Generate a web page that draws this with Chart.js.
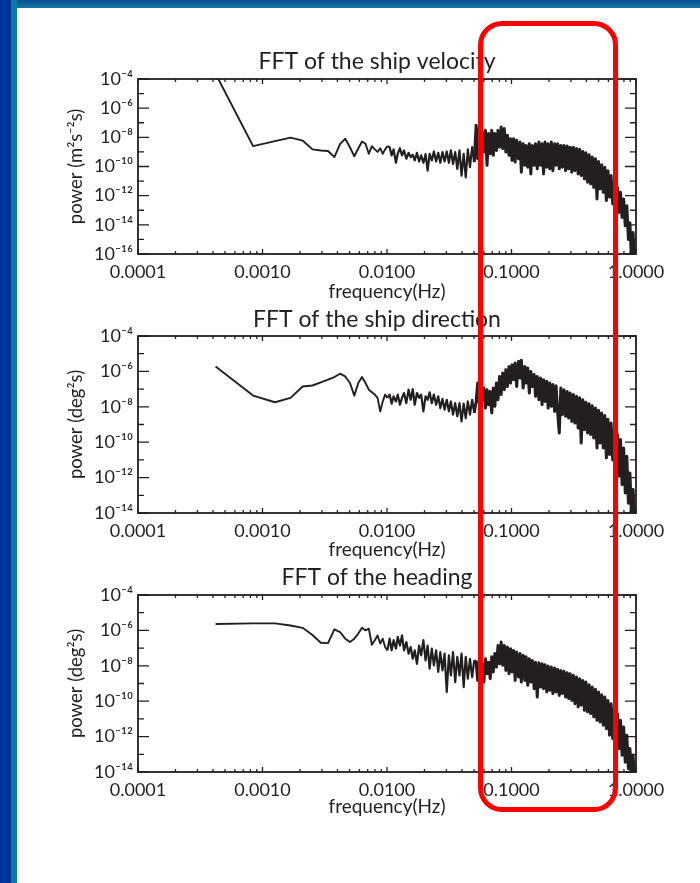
<!DOCTYPE html>
<html>
<head>
<meta charset="utf-8">
<title>FFT of the ship motion</title>
<script src="https://cdn.jsdelivr.net/npm/chart.js@4.4.1/dist/chart.umd.min.js"></script>
<style>
  html, body { margin: 0; padding: 0; width: 700px; height: 883px; overflow: hidden; background: #fff; }
  .edge-top { position: absolute; left: 11px; top: 0; width: 689px; height: 8px; background: linear-gradient(#0a4f98, #1379a0); }
  .edge-left { position: absolute; left: 0; top: 0; width: 11px; height: 883px; background: #00339a; }
  .edge-left-inner { position: absolute; left: 11px; top: 0; width: 6px; height: 883px; background: #0b7b9e; }
  canvas { position: absolute; left: 17px; }
  .highlight { position: absolute; left: 478px; top: 21px; width: 140px; height: 791px; box-sizing: border-box;
               border: 5px solid #ff0000; border-radius: 24px; }
</style>
</head>
<body>
<div class="edge-top"></div>
<div class="edge-left"></div>
<div class="edge-left-inner"></div>
<canvas id="velocity" width="683" height="267" style="top:36px"></canvas>
<canvas id="direction" width="683" height="258" style="top:303px"></canvas>
<canvas id="heading" width="683" height="257" style="top:561px"></canvas>
<div class="highlight"></div>
<script>
// frequency bins (Hz), shared by the three spectra
const freq = [
  0.00042, 0.00084, 0.00126, 0.00168, 0.0021, 0.00252, 0.00294, 0.00336, 0.00378, 0.0042,
  0.00462, 0.00504, 0.00546, 0.00588, 0.0063, 0.00672, 0.00714, 0.00756, 0.00798, 0.0084,
  0.00882, 0.00924, 0.00966, 0.01008,
  0.0105, 0.0109, 0.0113, 0.0118, 0.0122, 0.0127, 0.0132, 0.0137, 0.0143, 0.0149,
  0.0155, 0.0161, 0.0167, 0.0174, 0.0181, 0.0188, 0.0196, 0.0204, 0.0212, 0.0220,
  0.0229, 0.0238, 0.0248, 0.0258, 0.0268, 0.0279, 0.0290, 0.0302, 0.0314, 0.0326,
  0.0339, 0.0353, 0.0367, 0.0382, 0.0397, 0.0413, 0.0429, 0.0446, 0.0464, 0.0483,
  0.0502,
  0.052, 0.0535, 0.055, 0.0567, 0.0583, 0.06, 0.0618, 0.0636, 0.0655, 0.0674,
  0.0694, 0.0714, 0.0735, 0.0757, 0.0779, 0.0802, 0.0826, 0.085, 0.0875, 0.0901,
  0.0927, 0.0955, 0.0983, 0.101, 0.104, 0.107, 0.110, 0.114, 0.117, 0.120,
  0.124, 0.128, 0.131, 0.135, 0.139, 0.143, 0.147, 0.152, 0.156, 0.161,
  0.166, 0.171, 0.176, 0.181, 0.186, 0.192, 0.197, 0.203, 0.209, 0.215,
  0.222, 0.228, 0.235, 0.242, 0.249, 0.256, 0.264, 0.272, 0.280, 0.288,
  0.296, 0.305, 0.314, 0.323, 0.333, 0.343, 0.353, 0.363, 0.374, 0.385,
  0.396, 0.408, 0.420, 0.432, 0.445, 0.458, 0.472, 0.486, 0.500, 0.515,
  0.530, 0.546, 0.562, 0.578, 0.595, 0.613, 0.631, 0.650, 0.669, 0.689,
  0.709, 0.730, 0.751, 0.773, 0.796, 0.820, 0.844, 0.869, 0.894, 0.921,
  0.948, 0.976, 1.0
];

// power of the ship velocity (m^2 s^-2 s)
const velocityPower = [
  2.3e-4, 2.5e-9, 5.5e-9, 9.5e-9, 6e-9, 1.5e-9, 1.26e-9, 1.15e-9, 4.4e-10, 3.6e-9,
  8e-9, 2.1e-9, 5e-10, 1.7e-9, 5.2e-9, 3.6e-9, 7.4e-10, 2.5e-9, 1.5e-9, 1e-9,
  1.8e-9, 7.4e-10, 1.5e-9, 2.5e-9,
  2.1e-9, 5.8e-10, 1.5e-9, 1.8e-10, 7.4e-10, 1.8e-9, 5.8e-10, 1.26e-9, 3.4e-10, 8.7e-10,
  4.4e-10, 6.3e-10, 2.6e-10, 8.7e-10, 2.2e-10, 5.8e-10, 1.8e-10, 7e-10, 5.2e-11, 7.4e-10,
  2.6e-10, 1.07e-9, 2.2e-10, 8.7e-10, 1.8e-10, 9.8e-10, 2.2e-10, 1.07e-9, 1.8e-10, 1.26e-9,
  1.5e-10, 9.8e-10, 6.9e-11, 1.26e-9, 2.4e-11, 7.4e-10, 1.8e-11, 1.5e-9, 8.9e-11, 2.1e-9,
  2e-10,
  6.8e-8, 3.4e-10, 4e-8, 1.5e-10, 2.3e-8, 9.8e-10, 3e-8, 1.2e-10, 1.8e-8, 7.4e-10,
  3e-8, 5.8e-10, 1.8e-8, 1.26e-9, 3e-8, 2.1e-9, 5.1e-8, 1.7e-9, 4e-8, 9.8e-10,
  1.4e-8, 5.8e-10, 8.1e-9, 2.6e-10, 8.1e-9, 2e-10, 6.2e-9, 3.4e-10, 4.8e-9, 4.1e-11,
  3.6e-9, 1.2e-10, 2.8e-9, 8.9e-11, 3.6e-9, 3.1e-11, 2.8e-9, 1.2e-10, 3.6e-9, 6.9e-11,
  4.8e-9, 1.2e-10, 3.6e-9, 3.1e-11, 4.8e-9, 8.9e-11, 3.6e-9, 6.9e-11, 4.8e-9, 5.2e-11,
  3.6e-9, 1.2e-10, 3.6e-9, 6.9e-11, 2.8e-9, 8.9e-11, 2.8e-9, 5.2e-11, 2.5e-9, 6.9e-11,
  2.1e-9, 4.1e-11, 2.1e-9, 5.2e-11, 1.7e-9, 3.1e-11, 1.5e-9, 2.4e-11, 1.07e-9, 1.4e-11,
  8.7e-10, 8.3e-12, 6.3e-10, 6.3e-12, 4.4e-10, 3.7e-12, 3.4e-10, 5.9e-13, 2.2e-10, 2.9e-12,
  1.3e-10, 1.7e-12, 8.9e-11, 4.6e-13, 5.2e-11, 7.8e-13, 2.4e-11, 2.7e-13, 8.3e-12, 1.6e-13,
  3.7e-12, 7.1e-14, 1.7e-12, 3.2e-14, 5.9e-13, 8.5e-15, 2e-13, 1e-15, 1.4e-14, 2.5e-17,
  3e-15, 8.7e-18, 2.1e-16
];

// power of the ship direction (deg^2 s)
const directionPower = [
  1.9e-6, 4.3e-8, 1.8e-8, 3.2e-8, 1.4e-7, 1.6e-7, 2.4e-7, 3.4e-7, 4.8e-7, 7.4e-7,
  5.2e-7, 2.2e-7, 4.3e-8, 2.2e-7, 4.8e-7, 2.2e-7, 9.3e-8, 6.6e-8, 4.9e-8, 3.2e-8,
  5.5e-9, 2e-8, 4.9e-8, 3.2e-8,
  4.9e-8, 1.5e-8, 3.9e-8, 2e-8, 4.9e-8, 1.3e-8, 3.2e-8, 6e-8, 1.6e-8, 9.3e-8,
  2.5e-8, 1e-7, 1.3e-8, 6e-8, 3.2e-8, 4.9e-8, 5.5e-9, 3.9e-8, 2.5e-8, 6.6e-8,
  1.6e-8, 4.9e-8, 1.3e-8, 3.9e-8, 8.5e-9, 2.8e-8, 6.9e-9, 2.5e-8, 5.5e-9, 2e-8,
  3.6e-9, 1.6e-8, 2.9e-9, 1.6e-8, 1.5e-9, 1.5e-8, 2.3e-9, 2e-8, 3.6e-9, 2.5e-8,
  4.5e-9,
  2e-8, 2.2e-7, 1.6e-8, 1.8e-7, 2.5e-8, 1.15e-7, 8.5e-9, 9.3e-8, 1.3e-8, 7.4e-8,
  4.5e-9, 1.15e-7, 1.07e-8, 2.2e-7, 2.5e-8, 5.2e-7, 4.9e-8, 8.1e-7, 9.3e-8, 1.26e-6,
  1.4e-7, 1.9e-6, 2.2e-7, 2.4e-6, 3.4e-7, 3e-6, 1.4e-7, 3.7e-6, 4.3e-7, 4.3e-6,
  1.15e-7, 1.9e-6, 2.2e-7, 1.55e-6, 6e-8, 1e-6, 1.4e-7, 6.6e-7, 3.9e-8, 5.2e-7,
  2.5e-8, 4.3e-7, 1.3e-8, 3.4e-7, 2e-8, 2.8e-7, 8.5e-9, 2.2e-7, 1.07e-8, 1.8e-7,
  5.5e-9, 1.55e-7, 4.5e-9, 3.3e-10, 1.15e-7, 3.6e-9, 9.3e-8, 2.9e-9, 7.4e-8, 2.3e-9,
  6e-8, 1.5e-9, 4.9e-8, 1.2e-9, 3.9e-8, 6.3e-10, 3.2e-8, 8.9e-11, 2.5e-8, 5.1e-10,
  1.8e-8, 3.3e-10, 1.5e-8, 2.7e-10, 1.15e-8, 1.7e-10, 8.5e-9, 4.7e-11, 6.3e-9, 8.9e-11,
  4.5e-9, 4.7e-11, 3.2e-9, 1.3e-11, 2e-9, 2e-11, 1.2e-9, 1e-11, 5.1e-10, 4.4e-12,
  2.7e-10, 1.2e-12, 1.4e-10, 4e-13, 4.7e-11, 1.35e-13, 1.6e-11, 3.6e-14, 1.8e-12, 4.2e-15,
  2.1e-13, 1.8e-15, 1e-14
];

// power of the heading (deg^2 s)
const headingPower = [
  2.3e-6, 2.5e-6, 2.5e-6, 1.9e-6, 1.4e-6, 5.5e-7, 2e-7, 1.9e-7, 1.15e-6, 8.1e-7,
  3.4e-7, 2.2e-7, 3.4e-7, 6.6e-7, 1.4e-6, 1e-6, 1.26e-6, 1.55e-7, 2.8e-7, 5.2e-7,
  1.8e-7, 3.4e-7, 1.15e-7, 7.4e-8,
  3.4e-7, 7.4e-8, 2.8e-7, 9.3e-8, 4.3e-7, 1.4e-7, 5.2e-7, 7.4e-8, 2.2e-7, 4.9e-8,
  1.15e-7, 2.5e-8, 7.4e-8, 1.3e-8, 1.4e-7, 3.9e-8, 2.8e-7, 2e-8, 1.4e-7, 6.9e-9,
  9.3e-8, 1.07e-8, 7.4e-8, 4.5e-9, 6e-8, 5.5e-9, 4.9e-8, 3.3e-10, 3.9e-8, 2.9e-9,
  6e-8, 1.2e-9, 3.2e-8, 2.9e-9, 4.9e-8, 6.3e-10, 3.2e-8, 1.86e-9, 2.5e-8, 2.3e-9,
  2e-8,
  1.6e-8, 1.5e-9, 2e-8, 2.9e-9, 1.3e-8, 1.2e-9, 2.5e-8, 3.6e-9, 1.6e-8, 1.86e-9,
  3.2e-8, 4.5e-9, 4.9e-8, 8.5e-9, 1.4e-7, 1.3e-8, 2.2e-7, 1.07e-8, 1.4e-7, 5.5e-9,
  1.15e-7, 3.6e-9, 9.3e-8, 4.5e-9, 7.4e-8, 1.5e-9, 6e-8, 2.3e-9, 4.9e-8, 1.2e-9,
  3.9e-8, 1.5e-9, 3.2e-8, 7.9e-10, 2.5e-8, 1.2e-9, 2e-8, 5.1e-10, 1.6e-8, 1.7e-10,
  1.5e-8, 6.3e-10, 1.3e-8, 5.1e-10, 1.15e-8, 3.3e-10, 9.8e-9, 4.1e-10, 8.5e-9, 2.7e-10,
  7.6e-9, 3.3e-10, 6.3e-9, 2.1e-10, 5.5e-9, 2.7e-10, 4.9e-9, 1.7e-10, 4.1e-9, 1.4e-10,
  3.6e-9, 1.1e-10, 2.9e-9, 7.2e-11, 2.3e-9, 4.7e-11, 1.86e-9, 5.9e-11, 1.5e-9, 3e-11,
  1.2e-9, 2.5e-11, 8.5e-10, 2e-11, 6.3e-10, 1.3e-11, 4.7e-10, 8.3e-12, 3.3e-10, 6.6e-12,
  2.3e-10, 4.4e-12, 1.7e-10, 2.8e-12, 1.1e-10, 1.2e-12, 7.2e-11, 7.6e-13, 3.8e-11, 4e-13,
  2e-11, 2.1e-13, 8.3e-12, 8.7e-14, 3.5e-12, 3.6e-14, 1.2e-12, 1.55e-14, 2.1e-13, 4.2e-15,
  8.7e-14, 1.8e-15, 8.1e-15
];

// labelled ticks
const freqTicks = [0.0001, 0.001, 0.01, 0.1, 1];
const velocityTicks = [1e-16, 1e-14, 1e-12, 1e-10, 1e-8, 1e-6, 1e-4];
const angleTicks = [1e-14, 1e-12, 1e-10, 1e-8, 1e-6, 1e-4];

const INK = '#231f20';
Chart.defaults.font.family = "Lato, 'Noto Sans', sans-serif";
Chart.defaults.color = INK;

const SUP = { '-': '\u207b', '0': '\u2070', '1': '\u00b9', '2': '\u00b2', '3': '\u00b3', '4': '\u2074',
              '5': '\u2075', '6': '\u2076', '7': '\u2077', '8': '\u2078', '9': '\u2079' };
const powerLabel = v => '10' + String(Math.round(Math.log10(v))).split('').map(c => SUP[c]).join('');

// box around the plot with small inward ticks on all four sides
const frameTicks = {
  id: 'frameTicks',
  afterDatasetsDraw(chart) {
    const { ctx, chartArea: a, scales: { x, y } } = chart;
    ctx.save();
    ctx.strokeStyle = INK;
    ctx.lineWidth = 1.3;
    ctx.beginPath();
    for (let e = -4; e <= 0; e++) {
      for (let m = 1; m <= 9; m++) {
        const v = m * Math.pow(10, e);
        if (v > 1.0001) break;
        const px = x.getPixelForValue(v);
        const len = m === 1 ? 5 : 3;
        ctx.moveTo(px, a.bottom); ctx.lineTo(px, a.bottom - len);
        ctx.moveTo(px, a.top); ctx.lineTo(px, a.top + len);
      }
    }
    const lo = Math.round(Math.log10(y.min)), hi = Math.round(Math.log10(y.max));
    for (let e = lo; e <= hi; e++) {
      const py = y.getPixelForValue(Math.pow(10, e));
      const len = e % 2 === 0 ? 11 : 6;
      ctx.moveTo(a.left, py); ctx.lineTo(a.left + len, py);
      ctx.moveTo(a.right, py); ctx.lineTo(a.right - len, py);
    }
    ctx.stroke();
    ctx.lineWidth = 1.8;
    ctx.strokeRect(a.left, a.top, a.right - a.left, a.bottom - a.top);
    ctx.restore();
  }
};

// heavier pen where the spectrum gets dense
const penWidth = f => (f >= 0.05 ? 3 : f >= 0.01 ? 2.2 : 1.9);

function spectrumChart(id, power, yTicks, cfg) {
  return new Chart(document.getElementById(id), {
    type: 'line',
    data: {
      datasets: [{
        data: freq.map((f, i) => ({ x: f, y: power[i] })),
        borderColor: INK,
        borderWidth: 1.9,
        borderJoinStyle: 'round',
        pointRadius: 0,
        tension: 0,
        segment: { borderWidth: c => penWidth(c.p0.parsed.x) }
      }]
    },
    options: {
      responsive: false,
      animation: false,
      events: [],
      parsing: false,
      layout: { padding: { left: 48, right: 11, top: 0, bottom: 0 } },
      plugins: {
        legend: { display: false },
        tooltip: { enabled: false },
        title: { display: true, text: cfg.title, color: INK, font: { size: 23, weight: 'normal' }, padding: cfg.titlePad }
      },
      scales: {
        x: {
          type: 'logarithmic',
          min: freqTicks[0],
          max: freqTicks[freqTicks.length - 1],
          afterBuildTicks: s => { s.ticks = freqTicks.map(v => ({ value: v })); },
          afterFit: s => { s.height = cfg.xAxisHeight; },
          grid: { display: false, drawTicks: false },
          border: { display: false },
          ticks: { callback: v => Number(v).toFixed(4), autoSkip: false, maxRotation: 0, padding: 7, color: INK, font: { size: 18 } },
          title: { display: true, text: 'frequency(Hz)', color: INK, font: { size: 19 }, padding: 0 }
        },
        y: {
          type: 'logarithmic',
          min: yTicks[0],
          max: yTicks[yTicks.length - 1],
          afterBuildTicks: s => { s.ticks = yTicks.map(v => ({ value: v })); },
          afterFit: s => { s.width = 73; },
          grid: { display: false, drawTicks: false },
          border: { display: false },
          ticks: { callback: powerLabel, autoSkip: false, padding: 5, color: INK, font: { size: 18 } },
          title: { display: true, text: cfg.yTitle, color: INK, font: { size: 18.5 }, padding: 0 }
        },
        // empty right-hand axis, keeps the plot box where it sits in the figure
        y2: {
          type: 'linear',
          position: 'right',
          display: true,
          afterFit: s => { s.width = 53; },
          grid: { display: false, drawTicks: false },
          border: { display: false },
          ticks: { display: false }
        }
      }
    },
    plugins: [frameTicks]
  });
}

spectrumChart('velocity', velocityPower, velocityTicks, {
  title: 'FFT of the ship velocity', yTitle: 'power (m\u00b2s\u207b\u00b2s)',
  titlePad: { top: 12.2, bottom: 3.2 }, xAxisHeight: 49
});
spectrumChart('direction', directionPower, angleTicks, {
  title: 'FFT of the ship direction', yTitle: 'power (deg\u00b2s)',
  titlePad: { top: 3.2, bottom: 2.2 }, xAxisHeight: 48
});
spectrumChart('heading', headingPower, angleTicks, {
  title: 'FFT of the heading', yTitle: 'power (deg\u00b2s)',
  titlePad: { top: 3.2, bottom: 3.2 }, xAxisHeight: 46
});
</script>
</body>
</html>
